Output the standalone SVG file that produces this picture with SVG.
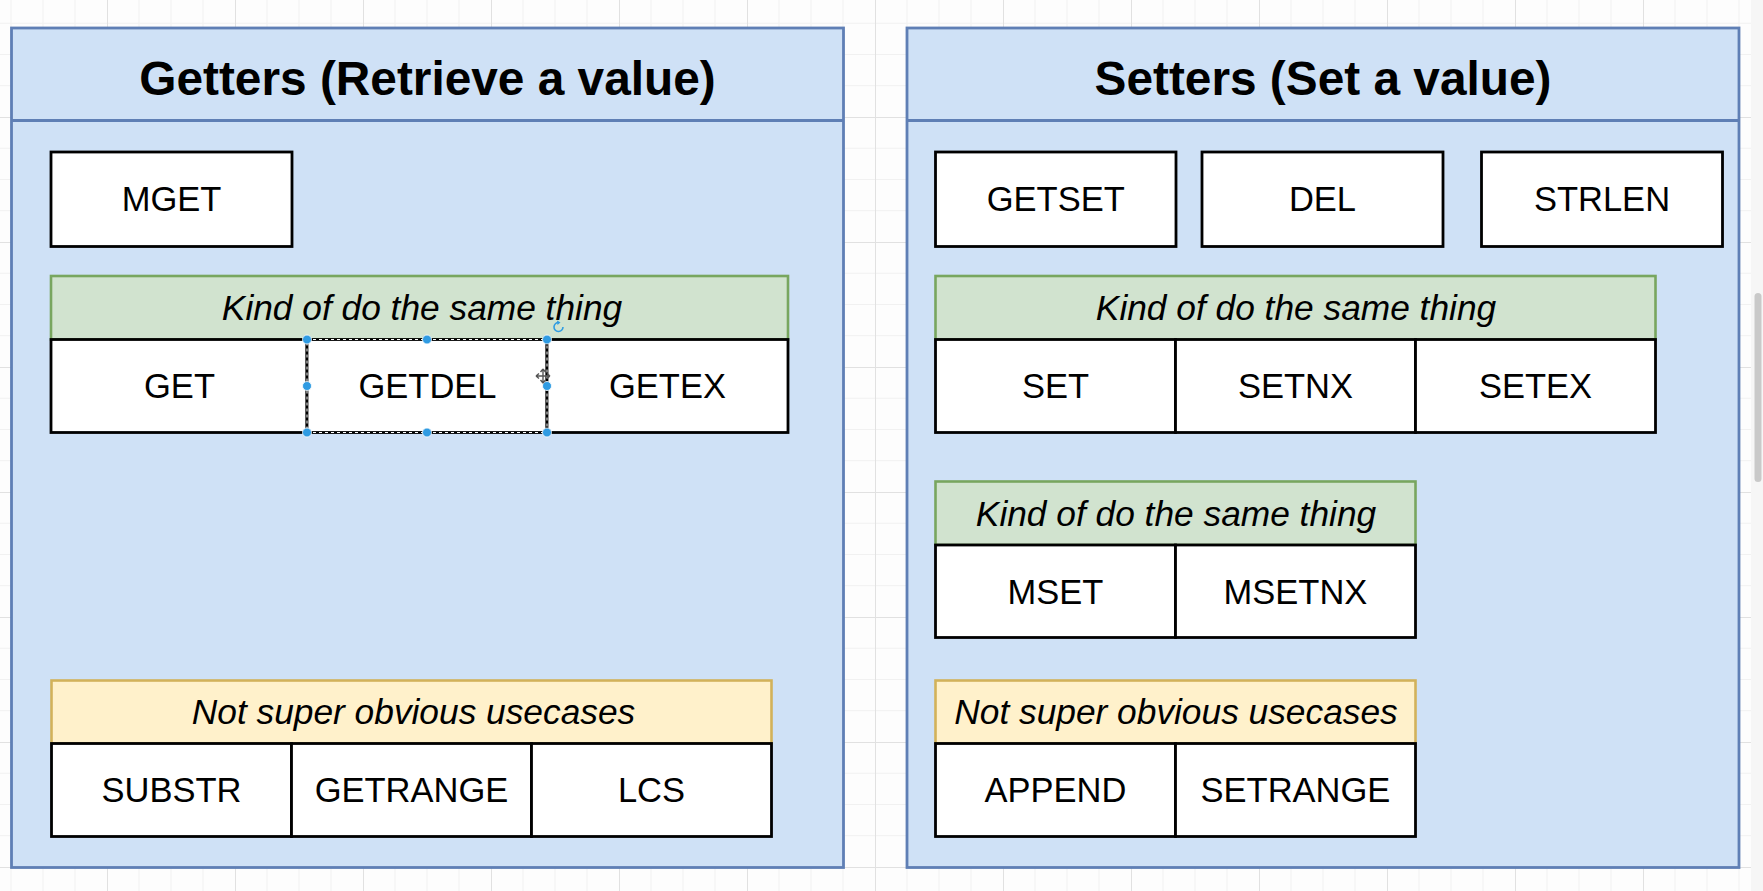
<svg xmlns="http://www.w3.org/2000/svg" width="1763" height="891" viewBox="0 0 1763 891">
  <defs>
    <pattern id="grid" patternUnits="userSpaceOnUse" x="107" y="242" width="128" height="125">
      <path d="M32 0V125M64 0V125M96 0V125M0 31.25H128M0 62.5H128M0 93.75H128" stroke="#f1f1f1" stroke-width="1" fill="none"/>
      <path d="M0.5 0V125M0 0.5H128" stroke="#e1e1e1" stroke-width="1" fill="none"/>
    </pattern>
  </defs>
  <style>
    .panel{fill:#cfe1f6;stroke:#5f7fb5;stroke-width:2.8}
    .div{stroke:#5f7fb5;stroke-width:2.8}
    .cell{fill:#ffffff;stroke:#000000;stroke-width:2.8}
    .ghead{fill:#d1e3cf;stroke:#78a65f;stroke-width:2.6}
    .yhead{fill:#fff1cb;stroke:#d2b25a;stroke-width:2.6}
    .title{font-family:"Liberation Sans",Arial,Helvetica,sans-serif;font-weight:bold;font-size:47.8px;text-anchor:middle;fill:#000}
    .lbl{font-family:"Liberation Sans",Arial,Helvetica,sans-serif;font-size:34.5px;text-anchor:middle;fill:#000}
    .hdr{font-family:"Liberation Sans",Arial,Helvetica,sans-serif;font-style:italic;font-size:35.3px;text-anchor:middle;fill:#000}
    .handle{fill:#2f9be2;stroke:#ffffff;stroke-width:0.8}
  </style>

  <rect x="0" y="0" width="1763" height="891" fill="#fdfdfd"/>
  <rect x="0" y="0" width="1763" height="891" fill="url(#grid)"/>
  <rect x="1751" y="0" width="12" height="891" fill="#f6f6f6"/>
  <rect x="1754.5" y="293" width="7" height="189" rx="3.5" fill="#c9c9c9"/>

  <!-- Getters panel -->
  <g id="panel-getters">
    <rect class="panel" x="11.5" y="28" width="832" height="839.5"/>
    <line class="div" x1="11.5" y1="120.5" x2="843.5" y2="120.5"/>
    <text class="title" x="427.5" y="94.5">Getters (Retrieve a value)</text>
  </g>

  <!-- Setters panel -->
  <g id="panel-setters">
    <rect class="panel" x="907" y="28" width="832" height="839.5"/>
    <line class="div" x1="907" y1="120.5" x2="1739" y2="120.5"/>
    <text class="title" x="1323" y="94.5">Setters (Set a value)</text>
  </g>

  <g id="node-mget">
    <rect class="cell" x="51" y="152" width="241" height="94.5"/>
    <text class="lbl" x="171.5" y="211">MGET</text>
  </g>

  <g id="group-getters-same">
    <rect class="ghead" x="51" y="276" width="737" height="63.5"/>
    <text class="hdr" x="422" y="320">Kind of do the same thing</text>
    <g id="node-get">
      <rect class="cell" x="51" y="339.5" width="256" height="93"/>
      <text class="lbl" x="179.5" y="397.5">GET</text>
    </g>
    <g id="node-getdel">
      <rect class="cell" x="307" y="339.5" width="240" height="93"/>
      <text class="lbl" x="427.5" y="397.5">GETDEL</text>
    </g>
    <g id="node-getex">
      <rect class="cell" x="547" y="339.5" width="241" height="93"/>
      <text class="lbl" x="667.5" y="397.5">GETEX</text>
    </g>
  </g>

  <g id="group-getters-obscure">
    <rect class="yhead" x="51.5" y="680.5" width="720" height="63"/>
    <text class="hdr" x="413.5" y="724">Not super obvious usecases</text>
    <g id="node-substr">
      <rect class="cell" x="51.5" y="743.5" width="240" height="93"/>
      <text class="lbl" x="171.5" y="802">SUBSTR</text>
    </g>
    <g id="node-getrange">
      <rect class="cell" x="291.5" y="743.5" width="240" height="93"/>
      <text class="lbl" x="411.5" y="802">GETRANGE</text>
    </g>
    <g id="node-lcs">
      <rect class="cell" x="531.5" y="743.5" width="240" height="93"/>
      <text class="lbl" x="651.5" y="802">LCS</text>
    </g>
  </g>

  <g id="node-getset">
    <rect class="cell" x="935.5" y="152" width="240.5" height="94.5"/>
    <text class="lbl" x="1055.75" y="211">GETSET</text>
  </g>
  <g id="node-del">
    <rect class="cell" x="1202" y="152" width="241" height="94.5"/>
    <text class="lbl" x="1322.5" y="211">DEL</text>
  </g>
  <g id="node-strlen">
    <rect class="cell" x="1481.5" y="152" width="241" height="94.5"/>
    <text class="lbl" x="1602" y="211">STRLEN</text>
  </g>

  <g id="group-setters-same">
    <rect class="ghead" x="935.5" y="276" width="720" height="63.5"/>
    <text class="hdr" x="1296" y="320">Kind of do the same thing</text>
    <g id="node-set">
      <rect class="cell" x="935.5" y="339.5" width="240" height="93"/>
      <text class="lbl" x="1055.5" y="397.5">SET</text>
    </g>
    <g id="node-setnx">
      <rect class="cell" x="1175.5" y="339.5" width="240" height="93"/>
      <text class="lbl" x="1295.5" y="397.5">SETNX</text>
    </g>
    <g id="node-setex">
      <rect class="cell" x="1415.5" y="339.5" width="240" height="93"/>
      <text class="lbl" x="1535.5" y="397.5">SETEX</text>
    </g>
  </g>

  <g id="group-setters-multi">
    <rect class="ghead" x="935.5" y="481.5" width="480" height="63.5"/>
    <text class="hdr" x="1176" y="525.5">Kind of do the same thing</text>
    <g id="node-mset">
      <rect class="cell" x="935.5" y="545" width="240" height="92.5"/>
      <text class="lbl" x="1055.5" y="603.5">MSET</text>
    </g>
    <g id="node-msetnx">
      <rect class="cell" x="1175.5" y="545" width="240" height="92.5"/>
      <text class="lbl" x="1295.5" y="603.5">MSETNX</text>
    </g>
  </g>

  <g id="group-setters-obscure">
    <rect class="yhead" x="935.5" y="680.5" width="480" height="63"/>
    <text class="hdr" x="1176" y="724">Not super obvious usecases</text>
    <g id="node-append">
      <rect class="cell" x="935.5" y="743.5" width="240" height="93"/>
      <text class="lbl" x="1055.5" y="802">APPEND</text>
    </g>
    <g id="node-setrange">
      <rect class="cell" x="1175.5" y="743.5" width="240" height="93"/>
      <text class="lbl" x="1295.5" y="802">SETRANGE</text>
    </g>
  </g>

  <g id="connectors"></g>

  <!-- selection overlay on GETDEL -->
  <g id="selection">
    <rect x="307" y="339.5" width="240" height="93" fill="none" stroke="#ffffff" stroke-width="1" stroke-dasharray="3 3"/>
    <circle class="handle" cx="307" cy="339.5" r="4.5"/>
    <circle class="handle" cx="427" cy="339.5" r="4.5"/>
    <circle class="handle" cx="547" cy="339.5" r="4.5"/>
    <circle class="handle" cx="307" cy="386" r="4.5"/>
    <circle class="handle" cx="547" cy="386" r="4.5"/>
    <circle class="handle" cx="307" cy="432.5" r="4.5"/>
    <circle class="handle" cx="427" cy="432.5" r="4.5"/>
    <circle class="handle" cx="547" cy="432.5" r="4.5"/>
    <path d="M563 327 A4.5 4.5 0 1 1 559 322.5" fill="none" stroke="#2f9be2" stroke-width="1.6"/>
    <path d="M557 320.5 L560.5 322.5 L557.5 325 Z" fill="#2f9be2"/>
    <path d="M543 369V383M536 376H550M543 369l-2.5 3M543 369l2.5 3M543 383l-2.5 -3M543 383l2.5 -3M536 376l3 -2.5M536 376l3 2.5M550 376l-3 -2.5M550 376l-3 2.5" fill="none" stroke="#555" stroke-width="1.4"/>
  </g>
</svg>
